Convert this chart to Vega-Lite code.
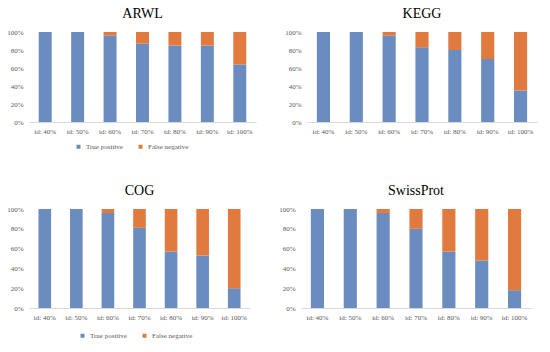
{
  "$schema": "https://vega.github.io/schema/vega-lite/v6.json",
  "padding": {"left": 6, "top": 7, "right": 8, "bottom": 4},
  "background": "white",
  "datasets": {
    "d": [
      {"db": "ARWL", "id": "id: 40%", "type": "True positive", "value": 1.0},
      {"db": "ARWL", "id": "id: 50%", "type": "True positive", "value": 1.0},
      {"db": "ARWL", "id": "id: 60%", "type": "True positive", "value": 0.96},
      {"db": "ARWL", "id": "id: 70%", "type": "True positive", "value": 0.87},
      {"db": "ARWL", "id": "id: 80%", "type": "True positive", "value": 0.85},
      {"db": "ARWL", "id": "id: 90%", "type": "True positive", "value": 0.85},
      {"db": "ARWL", "id": "id: 100%", "type": "True positive", "value": 0.64},
      {"db": "ARWL", "id": "id: 40%", "type": "False negative", "value": 0.0},
      {"db": "ARWL", "id": "id: 50%", "type": "False negative", "value": 0.0},
      {"db": "ARWL", "id": "id: 60%", "type": "False negative", "value": 0.04},
      {"db": "ARWL", "id": "id: 70%", "type": "False negative", "value": 0.13},
      {"db": "ARWL", "id": "id: 80%", "type": "False negative", "value": 0.15},
      {"db": "ARWL", "id": "id: 90%", "type": "False negative", "value": 0.15},
      {"db": "ARWL", "id": "id: 100%", "type": "False negative", "value": 0.36},
      {"db": "KEGG", "id": "id: 40%", "type": "True positive", "value": 1.0},
      {"db": "KEGG", "id": "id: 50%", "type": "True positive", "value": 1.0},
      {"db": "KEGG", "id": "id: 60%", "type": "True positive", "value": 0.96},
      {"db": "KEGG", "id": "id: 70%", "type": "True positive", "value": 0.83},
      {"db": "KEGG", "id": "id: 80%", "type": "True positive", "value": 0.8},
      {"db": "KEGG", "id": "id: 90%", "type": "True positive", "value": 0.7},
      {"db": "KEGG", "id": "id: 100%", "type": "True positive", "value": 0.35},
      {"db": "KEGG", "id": "id: 40%", "type": "False negative", "value": 0.0},
      {"db": "KEGG", "id": "id: 50%", "type": "False negative", "value": 0.0},
      {"db": "KEGG", "id": "id: 60%", "type": "False negative", "value": 0.04},
      {"db": "KEGG", "id": "id: 70%", "type": "False negative", "value": 0.17},
      {"db": "KEGG", "id": "id: 80%", "type": "False negative", "value": 0.2},
      {"db": "KEGG", "id": "id: 90%", "type": "False negative", "value": 0.3},
      {"db": "KEGG", "id": "id: 100%", "type": "False negative", "value": 0.65},
      {"db": "COG", "id": "id: 40%", "type": "True positive", "value": 1.0},
      {"db": "COG", "id": "id: 50%", "type": "True positive", "value": 1.0},
      {"db": "COG", "id": "id: 60%", "type": "True positive", "value": 0.96},
      {"db": "COG", "id": "id: 70%", "type": "True positive", "value": 0.81},
      {"db": "COG", "id": "id: 80%", "type": "True positive", "value": 0.57},
      {"db": "COG", "id": "id: 90%", "type": "True positive", "value": 0.53},
      {"db": "COG", "id": "id: 100%", "type": "True positive", "value": 0.2},
      {"db": "COG", "id": "id: 40%", "type": "False negative", "value": 0.0},
      {"db": "COG", "id": "id: 50%", "type": "False negative", "value": 0.0},
      {"db": "COG", "id": "id: 60%", "type": "False negative", "value": 0.04},
      {"db": "COG", "id": "id: 70%", "type": "False negative", "value": 0.19},
      {"db": "COG", "id": "id: 80%", "type": "False negative", "value": 0.43},
      {"db": "COG", "id": "id: 90%", "type": "False negative", "value": 0.47},
      {"db": "COG", "id": "id: 100%", "type": "False negative", "value": 0.8},
      {"db": "SwissProt", "id": "id: 40%", "type": "True positive", "value": 1.0},
      {"db": "SwissProt", "id": "id: 50%", "type": "True positive", "value": 1.0},
      {"db": "SwissProt", "id": "id: 60%", "type": "True positive", "value": 0.96},
      {"db": "SwissProt", "id": "id: 70%", "type": "True positive", "value": 0.8},
      {"db": "SwissProt", "id": "id: 80%", "type": "True positive", "value": 0.57},
      {"db": "SwissProt", "id": "id: 90%", "type": "True positive", "value": 0.48},
      {"db": "SwissProt", "id": "id: 100%", "type": "True positive", "value": 0.18},
      {"db": "SwissProt", "id": "id: 40%", "type": "False negative", "value": 0.0},
      {"db": "SwissProt", "id": "id: 50%", "type": "False negative", "value": 0.0},
      {"db": "SwissProt", "id": "id: 60%", "type": "False negative", "value": 0.04},
      {"db": "SwissProt", "id": "id: 70%", "type": "False negative", "value": 0.2},
      {"db": "SwissProt", "id": "id: 80%", "type": "False negative", "value": 0.43},
      {"db": "SwissProt", "id": "id: 90%", "type": "False negative", "value": 0.52},
      {"db": "SwissProt", "id": "id: 100%", "type": "False negative", "value": 0.82}
    ]
  },
  "config": {
    "font": "Liberation Serif",
    "view": {"stroke": null},
    "title": {"font": "Liberation Serif", "fontSize": 14, "fontWeight": "normal", "color": "#000000", "offset": 7},
    "axis": {"labelFont": "Liberation Serif", "labelFontSize": 7, "labelColor": "#595959", "title": null, "grid": false, "ticks": false},
    "axisX": {"domainColor": "#d9d9d9", "labelAngle": 0, "labelPadding": 5},
    "axisY": {"domain": false, "labelPadding": 6},
    "legend": {"labelFont": "Liberation Serif", "labelFontSize": 7, "labelColor": "#595959", "symbolType": "square", "symbolSize": 16, "symbolStrokeWidth": 0, "orient": "none", "direction": "horizontal", "title": null, "columnPadding": 14},
    "bar": {"stroke": null}
  },
  "spacing": 34,
  "vconcat": [
    {
      "spacing": 28,
      "hconcat": [
        {
          "title": "ARWL",
          "data": {"name": "d"},
          "transform": [{"filter": "datum.db === 'ARWL'"}],
          "width": 227, "height": 90,
          "mark": "bar",
          "encoding": {
            "x": {"field": "id", "type": "nominal", "sort": null, "scale": {"paddingInner": 0.6, "paddingOuter": 0.3}},
            "y": {"field": "value", "type": "quantitative", "stack": "zero", "scale": {"domain": [0, 1]}, "axis": {"format": "%", "values": [0, 0.2, 0.4, 0.6, 0.8, 1]}},
            "color": {"field": "type", "type": "nominal", "scale": {"domain": ["True positive", "False negative"], "range": ["#6b8cbf", "#e07a3e"]}, "legend": {"legendX": 46, "legendY": 111}}
          }
        },
        {
          "title": "KEGG",
          "data": {"name": "d"},
          "transform": [{"filter": "datum.db === 'KEGG'"}],
          "width": 230, "height": 90,
          "mark": "bar",
          "encoding": {
            "x": {"field": "id", "type": "nominal", "sort": null, "scale": {"paddingInner": 0.6, "paddingOuter": 0.3}},
            "y": {"field": "value", "type": "quantitative", "stack": "zero", "scale": {"domain": [0, 1]}, "axis": {"format": "%", "values": [0, 0.2, 0.4, 0.6, 0.8, 1]}},
            "color": {"field": "type", "type": "nominal", "scale": {"domain": ["True positive", "False negative"], "range": ["#6b8cbf", "#e07a3e"]}, "legend": {"legendX": 56, "legendY": 111}}
          }
        }
      ]
    },
    {
      "spacing": 28,
      "hconcat": [
        {
          "title": "COG",
          "data": {"name": "d"},
          "transform": [{"filter": "datum.db === 'COG'"}],
          "width": 221, "height": 99,
          "mark": "bar",
          "encoding": {
            "x": {"field": "id", "type": "nominal", "sort": null, "scale": {"paddingInner": 0.6, "paddingOuter": 0.3}},
            "y": {"field": "value", "type": "quantitative", "stack": "zero", "scale": {"domain": [0, 1]}, "axis": {"format": "%", "values": [0, 0.2, 0.4, 0.6, 0.8, 1]}},
            "color": {"field": "type", "type": "nominal", "scale": {"domain": ["True positive", "False negative"], "range": ["#6b8cbf", "#e07a3e"]}, "legend": {"legendX": 50, "legendY": 123}}
          }
        },
        {
          "title": "SwissProt",
          "data": {"name": "d"},
          "transform": [{"filter": "datum.db === 'SwissProt'"}],
          "width": 230, "height": 99,
          "mark": "bar",
          "encoding": {
            "x": {"field": "id", "type": "nominal", "sort": null, "scale": {"paddingInner": 0.6, "paddingOuter": 0.3}},
            "y": {"field": "value", "type": "quantitative", "stack": "zero", "scale": {"domain": [0, 1]}, "axis": {"format": "%", "values": [0, 0.2, 0.4, 0.6, 0.8, 1]}},
            "color": {"field": "type", "type": "nominal", "scale": {"domain": ["True positive", "False negative"], "range": ["#6b8cbf", "#e07a3e"]}, "legend": {"legendX": 56, "legendY": 123}}
          }
        }
      ]
    }
  ],
  "resolve": {"scale": {"color": "independent"}, "legend": {"color": "independent"}}
}
